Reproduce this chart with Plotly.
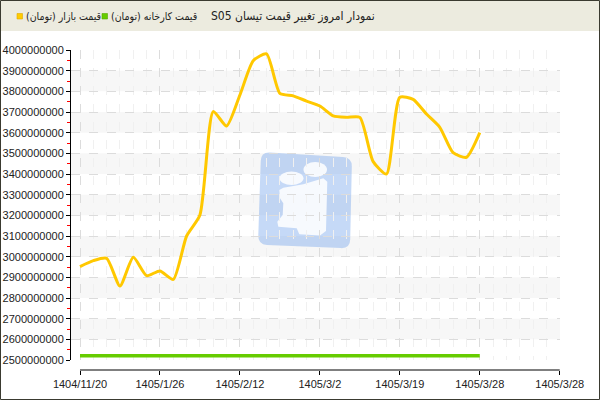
import plotly.graph_objects as go
import math

# ---- data ----
x_tick_labels = ["1404/11/20", "1405/1/26", "1405/2/12", "1405/3/2", "1405/3/19", "1405/3/28", "1405/3/28"]
market_price = [2952, 2981, 2992, 2858, 2997, 2908, 2931, 2890, 3100, 3202,
                3702, 3632, 3782, 3948, 3981, 3790, 3778, 3753, 3729, 3681,
                3674, 3674, 3460, 3400, 3771, 3761, 3690, 3626, 3503, 3481, 3600]
factory_price = [2520] * 31
market_price = [v * 1_000_000 for v in market_price]
factory_price = [v * 1_000_000 for v in factory_price]
title_text = "نمودار امروز تغییر قیمت تیسان S05"
market_name = "قیمت بازار (تومان)"
factory_name = "قیمت کارخانه (تومان)"

x_idx = list(range(len(market_price)))
tick_step = 6
tick_vals = [i * tick_step for i in range(len(x_tick_labels))]

Y_MIN, Y_MAX, Y_STEP = 2_500_000_000, 4_000_000_000, 100_000_000
X_RANGE = [-9 / 13.333, tick_vals[-1] + 0.02]

# ---- geometry helpers (pixel -> paper) ----
L, R, T, B = 71, 40, 50, 30
W, H = 600, 400
PW, PH = W - L - R, H - T - B
def px(x):
    return (x - L) / PW
def py(y):
    return (H - B - y) / PH
def xd(v):
    return (v - X_RANGE[0]) / (X_RANGE[1] - X_RANGE[0])

FONT = "Liberation Sans, DejaVu Sans, sans-serif"
AFONT = "DejaVu Sans Condensed, DejaVu Sans, sans-serif"
RLE, PDF = "\u202b", "\u202c"

fig = go.Figure()
fig.add_trace(go.Scatter(x=x_idx, y=factory_price, mode="lines", name=factory_name,
                         line=dict(color="#66cc00", width=3.5), showlegend=False))
fig.add_trace(go.Scatter(x=x_idx, y=market_price, mode="lines", name=market_name,
                         line=dict(color="#ffc800", width=3, shape="spline", smoothing=0.6),
                         showlegend=False))

shapes = []
# header band
shapes.append(dict(type="rect", xref="paper", yref="paper", x0=px(0), x1=px(600), y0=py(31), y1=py(0),
                   fillcolor="#ecebdf", line=dict(width=0), layer="below"))
# alternating bands
v = Y_MIN + Y_STEP
while v < Y_MAX:
    shapes.append(dict(type="rect", xref="paper", yref="y", x0=0, x1=1, y0=v, y1=v + Y_STEP,
                       fillcolor="#f7f7f7", line=dict(width=0), layer="below"))
    v += 2 * Y_STEP

# watermark logo
def pth(points, close=True):
    s = "M " + " L ".join(f"{px(a):.5f},{py(b):.5f}" for a, b in points)
    return s + (" Z" if close else "")

def rounded(tl, tr, br, bl, r=9):
    pts = [tl, tr, br, bl]
    out = []
    for i in range(4):
        p0 = pts[i - 1]; p1 = pts[i]; p2 = pts[(i + 1) % 4]
        def toward(a, b, d):
            dx, dy = b[0] - a[0], b[1] - a[1]
            n = math.hypot(dx, dy)
            return (a[0] + dx / n * d, a[1] + dy / n * d)
        out.append((toward(p1, p0, r), p1, toward(p1, p2, r)))
    s = f"M {px(out[0][0][0]):.5f},{py(out[0][0][1]):.5f}"
    for i in range(4):
        a, p1, c = out[i]
        if i > 0:
            s += f" L {px(a[0]):.5f},{py(a[1]):.5f}"
        s += f" Q {px(p1[0]):.5f},{py(p1[1]):.5f} {px(c[0]):.5f},{py(c[1]):.5f}"
    return s + " Z"

shapes.append(dict(type="path", xref="paper", yref="paper",
                   path=rounded((261, 152), (352, 157.5), (350, 248.5), (258, 244.5)),
                   fillcolor="rgb(110,160,235)", opacity=0.4, line=dict(width=0), layer="below"))
shapes.append(dict(type="circle", xref="paper", yref="paper", x0=px(279.5), x1=px(303.5), y0=py(185), y1=py(171.5),
                   fillcolor="white", opacity=0.85, line=dict(width=0), layer="below"))
shapes.append(dict(type="circle", xref="paper", yref="paper", x0=px(303.5), x1=px(327), y0=py(177), y1=py(162),
                   fillcolor="white", opacity=0.85, line=dict(width=0), layer="below"))
stem = [(279.3, 190), (280, 198.3), (283.3, 203.3), (282.7, 215), (277.3, 221.7), (278.3, 226.7),
        (296.7, 228.3), (299.3, 234.3), (320, 235.5), (326, 231), (327.3, 181.7), (323.3, 178.3),
        (303.3, 184.3), (283.3, 187.7)]
shapes.append(dict(type="path", xref="paper", yref="paper", path=pth(stem),
                   fillcolor="white", opacity=0.85, line=dict(width=0), layer="below"))

# x axis line (offset below plot area)
shapes.append(dict(type="line", xref="paper", yref="paper", x0=xd(tick_vals[0]), x1=xd(tick_vals[-1]), y0=0, y1=0,
                   line=dict(color="#000000", width=1)))
# legend squares
shapes.append(dict(type="rect", xref="paper", yref="paper", x0=px(17), x1=px(22.5), y0=py(19), y1=py(13.5),
                   fillcolor="#ffcc00", line=dict(color="#e0a800", width=0.6)))
shapes.append(dict(type="rect", xref="paper", yref="paper", x0=px(102), x1=px(107.5), y0=py(19), y1=py(13.5),
                   fillcolor="#66cc00", line=dict(color="#55aa00", width=0.6)))
# outer frame
shapes.append(dict(type="rect", xref="paper", yref="paper", x0=px(0.5), x1=px(599.5), y0=py(399.5), y1=py(0.5),
                   fillcolor="rgba(0,0,0,0)", line=dict(color="#3a3a30", width=1)))

annotations = [
    dict(text=RLE + title_text + PDF, xref="paper", yref="paper", x=px(292.5), y=py(16),
         xanchor="center", yanchor="middle", showarrow=False, font=dict(size=12, color="#222", family=AFONT)),
    dict(text=RLE + market_name + PDF, xref="paper", yref="paper", x=px(24), y=py(16),
         xanchor="left", yanchor="middle", showarrow=False, font=dict(size=10.5, color="#222", family=AFONT)),
    dict(text=RLE + factory_name + PDF, xref="paper", yref="paper", x=px(108.5), y=py(16),
         xanchor="left", yanchor="middle", showarrow=False, font=dict(size=10.5, color="#222", family=AFONT)),
]

fig.update_layout(
    width=W, height=H,
    margin=dict(l=L, r=R, t=T, b=B, pad=0, autoexpand=False),
    paper_bgcolor="white", plot_bgcolor="rgba(0,0,0,0)",
    font=dict(family=FONT, size=11, color="#222"),
    shapes=shapes, annotations=annotations, showlegend=False,
    xaxis=dict(range=X_RANGE, anchor="free", position=0, automargin=False,
               tickmode="array", tickvals=tick_vals, ticktext=x_tick_labels,
               showline=False, ticks="outside", ticklen=4, tickcolor="#000",
               showgrid=True, gridcolor="#dcdcdc", griddash="dash", gridwidth=1, zeroline=False,
               minor=dict(dtick=1, tick0=0, showgrid=True, gridcolor="#f0f0f0", griddash="dash", ticks=""),
               tickfont=dict(size=11, color="#222")),
    yaxis=dict(domain=[(H - B - 360) / PH, 1], range=[Y_MIN, Y_MAX], automargin=False,
               tickmode="linear", tick0=Y_MIN, dtick=Y_STEP,
               tickformat="d", showline=True, linecolor="#000", linewidth=1,
               ticks="outside", ticklen=4, tickcolor="#000",
               showgrid=True, gridcolor="#dcdcdc", griddash="dash", zeroline=False,
               minor=dict(dtick=Y_STEP / 2, tick0=Y_MIN, ticks="outside", ticklen=3, tickcolor="red", showgrid=False),
               tickfont=dict(size=11, color="#222")),
)

fig.write_html("out.html", config={"displayModeBar": False},
               post_script="document.body.style.margin='0';document.body.style.overflow='hidden';")
